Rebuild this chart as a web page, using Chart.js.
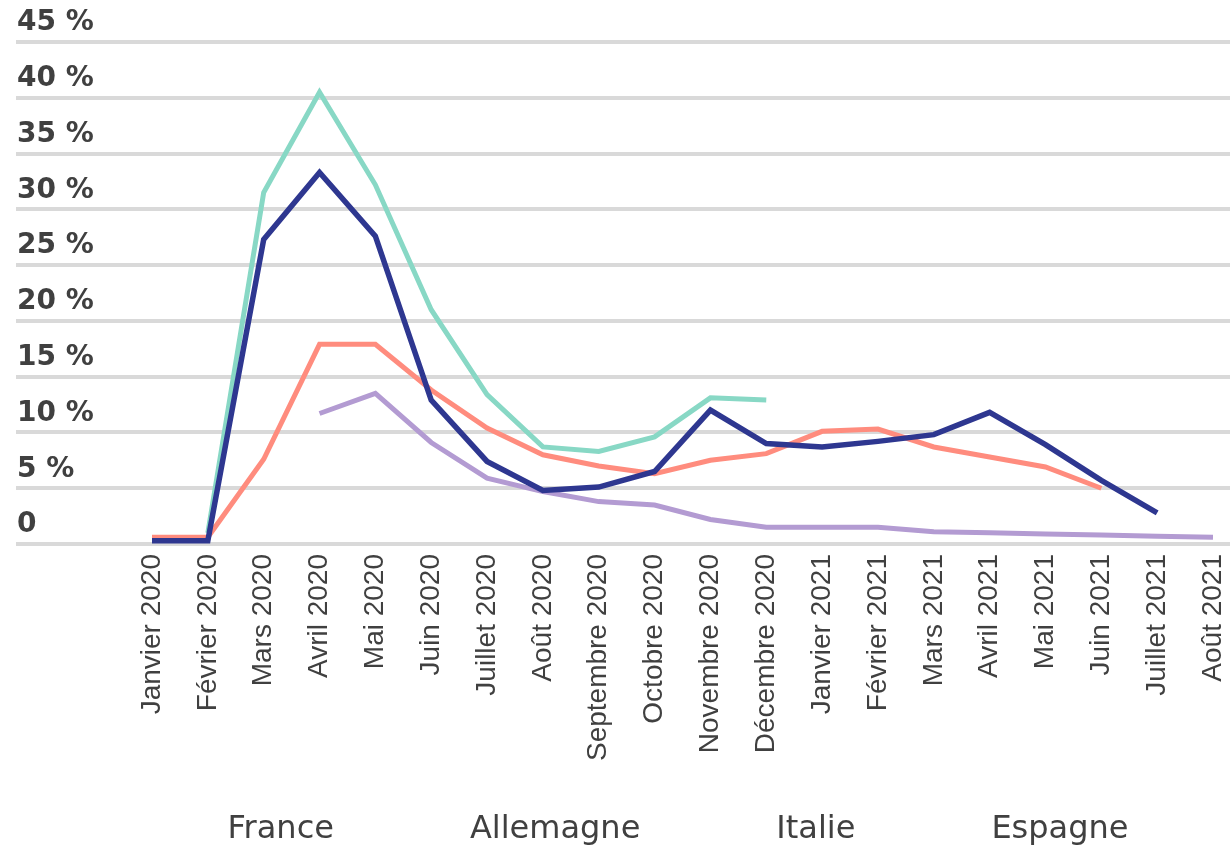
<!DOCTYPE html>
<html>
<head>
<meta charset="utf-8">
<script src="https://cdn.jsdelivr.net/npm/chart.js@4.4.1/dist/chart.umd.min.js"></script>
<style>
    html, body { margin: 0; padding: 0; background: #ffffff; }
    #wrap { width: 1230px; height: 847px; }
</style>
</head>
<body>
<div id="wrap"><canvas id="chomageChart"></canvas></div>
<script>
const months = [
    "Janvier 2020", "Février 2020", "Mars 2020", "Avril 2020", "Mai 2020", "Juin 2020",
    "Juillet 2020", "Août 2020", "Septembre 2020", "Octobre 2020", "Novembre 2020", "Décembre 2020",
    "Janvier 2021", "Février 2021", "Mars 2021", "Avril 2021", "Mai 2021", "Juin 2021",
    "Juillet 2021", "Août 2021"
];
const france = [0.3, 0.3, 27.3, 33.3, 27.6, 12.9, 7.4, 4.8, 5.1, 6.5, 12.0, 9.0, 8.7, 9.2, 9.8, 11.8, 8.9, 5.7, 2.8, null];
const allemagne = [0.6, 0.6, 7.6, 17.9, 17.9, 13.8, 10.4, 8.0, 7.0, 6.3, 7.5, 8.1, 10.1, 10.3, 8.7, 7.8, 6.9, 5.0, null, null];
const italie = [null, 1.0, 31.5, 40.5, 32.2, 21.0, 13.4, 8.7, 8.3, 9.6, 13.1, 12.9, null, null, null, null, null, null, null, null];
const espagne = [null, null, null, 11.7, 13.5, 9.1, 5.9, 4.7, 3.8, 3.5, 2.2, 1.5, 1.5, 1.5, 1.1, 1.0, 0.9, 0.8, 0.7, 0.6];
const yTicks = [0, 5, 10, 15, 20, 25, 30, 35, 40, 45];

// lignes horizontales sur toute la largeur, sous les courbes
const fullGrid = {
    id: "fullGrid",
    beforeDatasetsDraw(chart) {
        const ctx = chart.ctx;
        const y = chart.scales.y;
        ctx.save();
        ctx.strokeStyle = "#d9d9d9";
        ctx.lineWidth = 4;
        y.ticks.forEach(t => {
            const py = Math.round(y.getPixelForValue(t.value));
            ctx.beginPath();
            ctx.moveTo(16, py);
            ctx.lineTo(chart.width, py);
            ctx.stroke();
        });
        ctx.restore();
    }
};

function makeSet(label, data, color, width) {
    return {
        label, data,
        borderColor: color,
        backgroundColor: color,
        borderWidth: width,
        pointRadius: 0,
        tension: 0,
        spanGaps: false
    };
}

document.addEventListener("DOMContentLoaded", () => {
    const ctx = document.getElementById("chomageChart").getContext("2d");
    new Chart(ctx, {
        type: "line",
        data: {
            labels: months,
            datasets: [
                makeSet("France", france, "#2e3790", 5.5),
                makeSet("Allemagne", allemagne, "#ff8c7e", 5),
                makeSet("Italie", italie, "#88d8c5", 5),
                makeSet("Espagne", espagne, "#b39bd2", 5)
            ]
        },
        options: {
            responsive: true,
            maintainAspectRatio: false,
            animation: false,
            layout: { padding: { left: 17, right: 17, top: 42, bottom: -9 } },
            plugins: {
                tooltip: { enabled: false },
                legend: {
                    position: "bottom",
                    labels: {
                        color: "#404040",
                        font: { family: "'DejaVu Sans'", size: 32 },
                        boxWidth: 110,
                        boxHeight: 10,
                        padding: 10,
                        generateLabels(chart) {
                            const items = Chart.defaults.plugins.legend.labels.generateLabels(chart);
                            items.forEach(it => {
                                it.fillStyle = "rgba(0,0,0,0)";
                                it.strokeStyle = "rgba(0,0,0,0)";
                                it.lineWidth = 0;
                            });
                            return items;
                        }
                    }
                }
            },
            scales: {
                x: {
                    grid: { display: false, drawTicks: false },
                    border: { display: false },
                    afterFit(scale) {
                        scale.height = 260;
                        scale.paddingLeft = 0;
                        scale.paddingRight = 0;
                    },
                    ticks: {
                        autoSkip: false,
                        minRotation: 90,
                        maxRotation: 90,
                        padding: 10,
                        color: "#404040",
                        font: { family: "'Liberation Sans'", size: 28 }
                    }
                },
                y: {
                    min: 0,
                    max: 45,
                    afterFit(scale) { scale.width = 135; },
                    afterBuildTicks(scale) { scale.ticks = yTicks.map(v => ({ value: v })); },
                    grid: { display: false, drawTicks: false },
                    border: { display: false },
                    ticks: {
                        crossAlign: "far",
                        labelOffset: -19,
                        color: "#404040",
                        font: { family: "'DejaVu Sans'", size: 28, weight: "bold" },
                        callback: v => v === 0 ? "0" : v + " %"
                    }
                }
            }
        },
        plugins: [fullGrid]
    });
});
</script>
</body>
</html>
